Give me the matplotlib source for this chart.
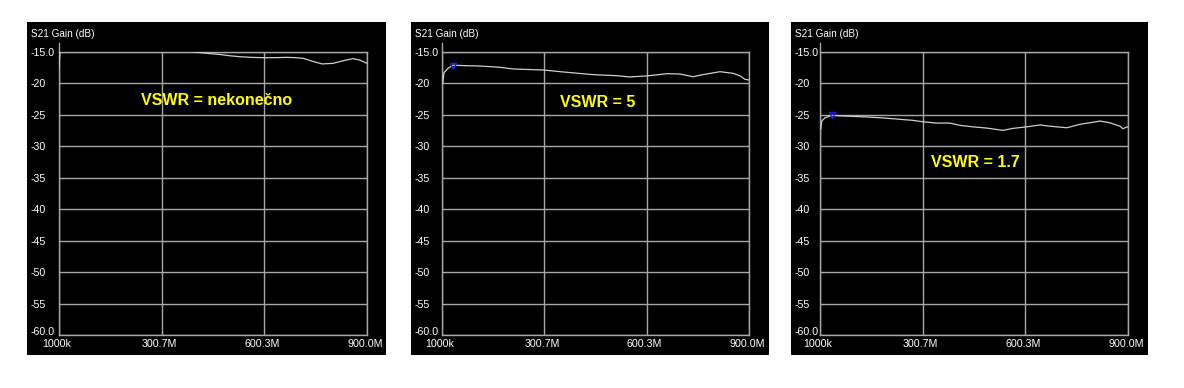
import matplotlib.pyplot as plt
from matplotlib.patches import Rectangle
from matplotlib.transforms import ScaledTranslation

plt.rcParams['font.family'] = ['Liberation Sans', 'DejaVu Sans']

# Ejes comunes (frecuencia en MHz, ganancia en dB)
x_ticks = [1.0, 300.67, 600.33, 900.0]
x_tick_labels = ['1000k', '300.7M', '600.3M', '900.0M']
y_ticks = [-15, -20, -25, -30, -35, -40, -45, -50, -55, -60]
y_tick_labels = ['-15.0', '-20', '-25', '-30', '-35', '-40', '-45', '-50', '-55', '-60.0']

# Traza 1: VSWR = nekonecno (al principio se sale por arriba de -15 dB)
freq_inf = [1, 5, 100, 200, 300, 380, 404, 440, 471, 500, 530, 560, 596, 630,
            667, 690, 713, 742, 769, 801, 830, 859, 880, 900]
gain_inf = [-17.5, -14.0, -14.0, -14.0, -14.3, -14.8, -15.05, -15.25, -15.4,
            -15.6, -15.75, -15.85, -15.9, -15.9, -15.85, -15.9, -16.0, -16.5,
            -16.9, -16.8, -16.4, -16.05, -16.3, -16.8]

# Traza 2: VSWR = 5
freq_5 = [3, 7, 18.6, 33, 74, 112, 171, 209, 297, 367, 443, 513, 551, 601,
          660, 698, 736, 765, 815, 853, 874, 888, 900]
gain_5 = [-19.98, -18.29, -17.6, -17.1, -17.18, -17.23, -17.43, -17.7, -17.86,
          -18.23, -18.6, -18.77, -18.97, -18.8, -18.45, -18.5, -18.93, -18.6,
          -18.13, -18.39, -18.8, -19.34, -19.45]
marker_5 = (33, -17.2)

# Traza 3: VSWR = 1.7
freq_17 = [3, 6, 15.6, 35, 79, 126, 176, 225, 272, 302, 342, 380, 410, 447,
           488, 535, 564, 604, 643, 672, 721, 760, 789, 818, 847, 877, 885,
           896, 900]
gain_17 = [-27.3, -26.0, -25.45, -25.08, -25.2, -25.3, -25.45, -25.66, -25.87,
           -26.1, -26.3, -26.3, -26.67, -26.9, -27.1, -27.46, -27.15, -26.9,
           -26.6, -26.8, -27.05, -26.5, -26.25, -25.98, -26.25, -26.8, -27.2,
           -26.93, -26.9]
marker_17 = (35, -25.08)

traces = [(freq_inf, gain_inf, None), (freq_5, gain_5, marker_5),
          (freq_17, gain_17, marker_17)]
vswr_labels = ['VSWR = nekonečno', 'VSWR = 5', 'VSWR = 1.7']
vswr_pos = [(0.513, 0.830), (0.508, 0.820), (0.503, 0.608)]

# Geometria en pixeles (figura de 1184 x 388)
W, H = 1184, 388
panel_x = [(27, 386), (411, 769), (791, 1148)]
axes_x = [(59, 367), (442, 749), (820, 1128)]
panel_y = (22, 355)
axes_y = (52, 335)

GRID = '#a8a8a8'
TRACE = '#cfcfcf'

fig = plt.figure(figsize=(W / 100, H / 100), dpi=100)
fig.patch.set_facecolor('white')

for i in range(3):
    px0, px1 = panel_x[i]
    ax0, ax1 = axes_x[i]

    # Fondo negro del panel
    fig.add_artist(Rectangle((px0 / W, 1 - panel_y[1] / H), (px1 - px0) / W,
                             (panel_y[1] - panel_y[0]) / H,
                             transform=fig.transFigure, facecolor='black',
                             edgecolor='none', zorder=0))

    ax = fig.add_axes([ax0 / W, 1 - axes_y[1] / H, (ax1 - ax0) / W,
                       (axes_y[1] - axes_y[0]) / H])
    ax.set_facecolor('black')
    ax.set_xlim(1, 900)
    ax.set_ylim(-60, -15)

    ax.set_xticks(x_ticks)
    ax.set_xticklabels(x_tick_labels)
    ax.set_yticks(y_ticks)
    ax.set_yticklabels(y_tick_labels)

    pad_y = (ax0 - px0 - 4) * 0.72
    ax.tick_params(axis='y', length=0, pad=pad_y, labelsize=7.7, labelcolor='white')
    ax.tick_params(axis='x', length=0, pad=3, labelsize=7.7, labelcolor='white')
    for lbl in ax.get_yticklabels():
        lbl.set_horizontalalignment('left')
    # la etiqueta -60.0 queda un poco por encima de la linea
    low = ax.get_yticklabels()[-1]
    low.set_transform(low.get_transform() + ScaledTranslation(0, 3 / 72, fig.dpi_scale_trans))
    # las etiquetas del eje X van algo corridas a la izquierda
    for lbl in ax.get_xticklabels():
        lbl.set_transform(lbl.get_transform() + ScaledTranslation(-2 / 100, 0, fig.dpi_scale_trans))

    ax.grid(True, color=GRID, linewidth=1)
    for side in ['left', 'right', 'top', 'bottom']:
        ax.spines[side].set_color(GRID)
        ax.spines[side].set_linewidth(1)
    # el eje izquierdo sobresale un poco por encima de -15
    ax.spines['left'].set_bounds(-60, -13.6)

    freq, gain, marker = traces[i]
    ax.plot(freq, gain, color=TRACE, linewidth=0.9, zorder=3)
    if marker is not None:
        ax.plot([marker[0]], [marker[1]], marker='v', markersize=5,
                markerfacecolor='none', markeredgecolor='#2020ff',
                markeredgewidth=1, zorder=4)

    ax.text(vswr_pos[i][0], vswr_pos[i][1], vswr_labels[i], transform=ax.transAxes,
            color='#ffff00', fontsize=11.5, fontweight='bold',
            ha='center', va='center')

    fig.text((px0 + 4) / W, 1 - 34 / H, 'S21 Gain (dB)', color='white',
             fontsize=7.2, ha='left', va='center')

fig.savefig('out.png', dpi=100, facecolor='white')
